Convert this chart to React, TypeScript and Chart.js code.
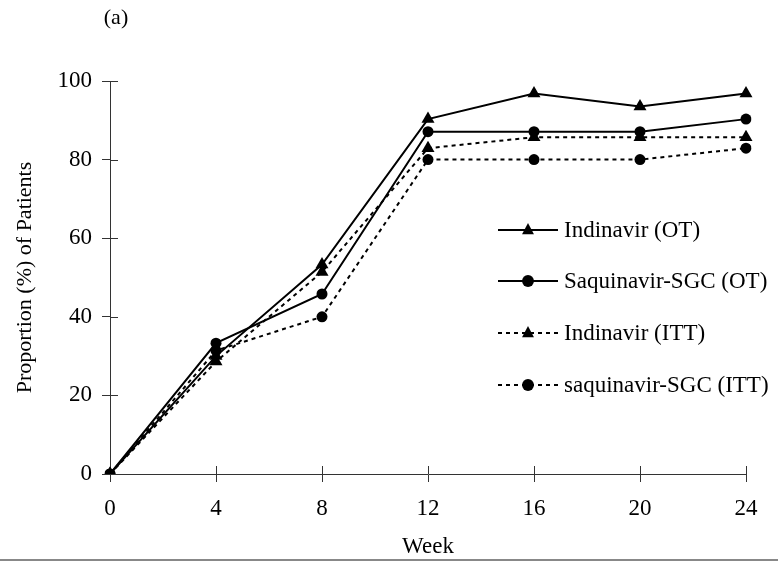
import React, { useEffect, useRef } from "react";
import { Chart, registerables } from "chart.js";

Chart.register(...registerables);

const weeks = ["0", "4", "8", "12", "16", "20", "24"];
const yTicks = [0, 20, 40, 60, 80, 100];
const indinavirOT = [0, 30, 53.3, 90.3, 96.8, 93.5, 96.8];
const saquinavirOT = [0, 33.3, 45.8, 87.1, 87.1, 87.1, 90.3];
const indinavirITT = [0, 28.6, 51.4, 82.9, 85.7, 85.7, 85.7];
const saquinavirITT = [0, 31.4, 40, 80, 80, 80, 82.9];
const seriesNames = ["Indinavir (OT)", "Saquinavir-SGC (OT)", "Indinavir (ITT)", "saquinavir-SGC (ITT)"];
const panelLabel = "(a)";
const xTitle = "Week";
const yTitle = "Proportion (%) of Patients";

const FONT = "'Liberation Serif', 'Times New Roman', serif";
const DASH = [4, 4];

function drawMarker(ctx: CanvasRenderingContext2D, style: string, x: number, y: number, r: number) {
  ctx.save();
  ctx.fillStyle = "#000";
  ctx.setLineDash([]);
  ctx.beginPath();
  if (style === "triangle") {
    ctx.moveTo(x, y - r);
    ctx.lineTo(x + r * 0.85, y + r * 0.6);
    ctx.lineTo(x - r * 0.85, y + r * 0.6);
    ctx.closePath();
  } else {
    ctx.arc(x, y, r * 0.85, 0, Math.PI * 2);
  }
  ctx.fill();
  ctx.restore();
}

const decorPlugin = {
  id: "decor",
  beforeDatasetsDraw(chart: any) {
    const { ctx, chartArea } = chart;
    const xs = chart.scales.x;
    const ys = chart.scales.y;
    ctx.save();
    ctx.strokeStyle = "#333";
    ctx.lineWidth = 1;
    ctx.beginPath();
    for (let i = 0; i < weeks.length; i++) {
      const px = Math.round(xs.getPixelForValue(i)) + 0.5;
      ctx.moveTo(px, chartArea.bottom);
      ctx.lineTo(px, chartArea.bottom - 8);
    }
    for (const v of yTicks) {
      const py = Math.round(ys.getPixelForValue(v)) + 0.5;
      ctx.moveTo(chartArea.left, py);
      ctx.lineTo(chartArea.left + 8, py);
    }
    ctx.stroke();
    ctx.restore();
  },
  afterDraw(chart: any) {
    const { ctx } = chart;
    ctx.save();
    ctx.fillStyle = "#000";
    ctx.font = `22px ${FONT}`;
    ctx.textAlign = "center";
    ctx.textBaseline = "middle";
    ctx.fillText(panelLabel, 116, 18);
    ctx.strokeStyle = "#888";
    ctx.lineWidth = 2;
    ctx.beginPath();
    ctx.moveTo(0, 560);
    ctx.lineTo(778, 560);
    ctx.stroke();
    const rows = [230, 281, 333, 385];
    chart.data.datasets.forEach((ds: any, i: number) => {
      const y = rows[i];
      ctx.strokeStyle = "#000";
      ctx.lineWidth = 2;
      ctx.setLineDash(ds.borderDash || []);
      ctx.beginPath();
      ctx.moveTo(498, y);
      ctx.lineTo(558, y);
      ctx.stroke();
      ctx.setLineDash([]);
      drawMarker(ctx, ds.pointStyle, 528, y, 7);
      ctx.fillStyle = "#000";
      ctx.font = `23px ${FONT}`;
      ctx.textAlign = "left";
      ctx.textBaseline = "middle";
      ctx.fillText(ds.label, 564, y + 1);
    });
    ctx.restore();
  },
};

export default function App() {
  const ref = useRef<HTMLCanvasElement>(null);
  useEffect(() => {
    if (!ref.current) return;
    const mk = (label: string, data: number[], style: string, dashed: boolean) => ({
      label,
      data,
      borderColor: "#000",
      backgroundColor: "#000",
      borderWidth: 2,
      borderDash: dashed ? DASH : [],
      pointStyle: style,
      pointRadius: style === "triangle" ? 7.5 : 5.5,
      pointBackgroundColor: "#000",
      pointBorderColor: "#000",
      pointBorderWidth: 0,
      tension: 0,
      fill: false,
    });
    const chart = new Chart(ref.current, {
      type: "line",
      data: {
        labels: weeks,
        datasets: [
          mk(seriesNames[0], indinavirOT, "triangle", false),
          mk(seriesNames[1], saquinavirOT, "circle", false),
          mk(seriesNames[2], indinavirITT, "triangle", true),
          mk(seriesNames[3], saquinavirITT, "circle", true),
        ],
      },
      options: {
        animation: false,
        responsive: false,
        layout: { padding: { top: 81, right: 32, left: 0, bottom: 0 } },
        plugins: { legend: { display: false }, tooltip: { enabled: false } },
        scales: {
          x: {
            type: "category",
            offset: false,
            afterFit: (s: any) => { s.height = 88; },
            grid: { display: true, drawOnChartArea: false, drawTicks: true, tickLength: 8, color: "#333" },
            border: { display: true, color: "#333", width: 1 },
            ticks: { color: "#000", font: { family: FONT, size: 23 }, padding: 13, maxRotation: 0, autoSkip: false },
            title: { display: true, text: xTitle, color: "#000", font: { family: FONT, size: 23 }, padding: { top: 0, bottom: 1 } },
          },
          y: {
            min: 0,
            max: 100,
            afterFit: (s: any) => { s.width = 110; },
            grid: { display: true, drawOnChartArea: false, drawTicks: true, tickLength: 8, color: "#333" },
            border: { display: true, color: "#333", width: 1 },
            ticks: { stepSize: 20, color: "#000", font: { family: FONT, size: 23 }, padding: 10 },
            title: { display: true, text: yTitle, color: "#000", font: { family: FONT, size: 22 }, padding: { top: 12, bottom: 0 } },
          },
        },
      },
      plugins: [decorPlugin],
    } as any);
    return () => chart.destroy();
  }, []);
  return (
    <div style={{ position: "absolute", left: 0, top: 0, width: 778, height: 562, background: "#fff" }}>
      <canvas ref={ref} width={778} height={562} style={{ display: "block" }} />
    </div>
  );
}
